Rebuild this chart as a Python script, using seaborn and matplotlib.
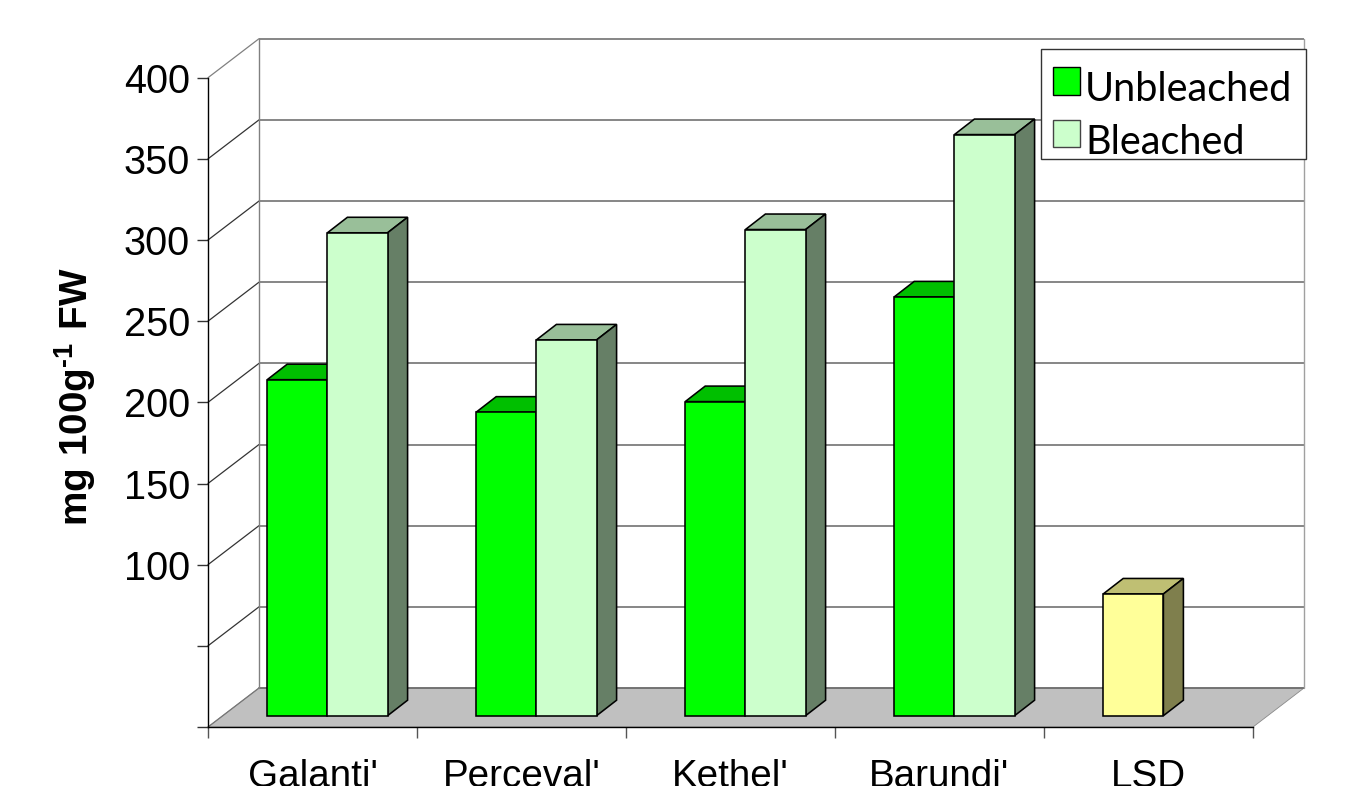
import matplotlib
matplotlib.use("Agg")
import matplotlib.pyplot as plt
from matplotlib.legend_handler import HandlerPatch
from matplotlib.patches import Polygon, Patch, Rectangle
import pandas as pd
import seaborn as sns

# Contents of each cultivar, mg per 100 g fresh weight
categories = ["Galanti'", "Perceval'", "Kethel'", "Barundi'", "LSD"]
unbleached = [207, 187, 193.5, 258, 75]
bleached = [297.5, 231.5, 299.5, 358, None]
y_ticks = [0, 50, 100, 150, 200, 250, 300, 350, 400]
y_tick_labels = ["", "", "100", "150", "200", "250", "300", "350", "400"]

sns.set_theme(style="white")
plt.rcParams["font.family"] = ["Liberation Sans", "DejaVu Sans"]
plt.rcParams["mathtext.fontset"] = "custom"
plt.rcParams["mathtext.rm"] = "Liberation Sans"
plt.rcParams["mathtext.bf"] = "Liberation Sans:bold"

W, H = 1357, 786
fig = plt.figure(figsize=(W / 100, H / 100), dpi=100, facecolor="white")
ax = fig.add_axes([208 / W, (H - 727) / H, 1045 / W, 649.3 / H])
ax.patch.set_visible(False)

df = pd.DataFrame({
    "cultivar": categories * 2,
    "value": unbleached + bleached,
    "series": ["Unbleached"] * 5 + ["Bleached"] * 5,
})
GREEN, PALE, YELLOW = "#00FF00", "#CCFFCC", "#FFFF99"
sns.barplot(data=df, x="cultivar", y="value", hue="series",
            hue_order=["Unbleached", "Bleached"],
            palette={"Unbleached": GREEN, "Bleached": PALE},
            width=0.576, gap=0, saturation=1, legend=False,
            edgecolor="black", linewidth=1.15, ax=ax, zorder=5)
ax.set_xlim(-0.5, 4.5)
ax.set_ylim(0, 400)

# Pixel-to-data scales for the oblique projection
PX = 5 / 1045
PY = 400 / 649.3
WALL_X, WALL_Y = 51 * PX, 39 * PY      # depth of the chart box
SHIFT_X, SHIFT_Y = 14.9 * PX, 11.3 * PY  # bars stand inside the box
BAR_X, BAR_Y = 20 * PX, 15.5 * PY      # depth of each bar

x0, x1 = -0.5, 4.5

# Floor and back wall
ax.add_patch(Polygon([(x0, 0), (x1, 0), (x1 + WALL_X, WALL_Y), (x0 + WALL_X, WALL_Y)],
                     closed=True, facecolor="#C0C0C0", edgecolor="#8a8a8a",
                     linewidth=0.6, clip_on=False, zorder=1))
for v in y_ticks[1:]:
    ax.plot([x0 + WALL_X, x1 + WALL_X], [v + WALL_Y] * 2, color="#666666", lw=1.1,
            clip_on=False, zorder=2, solid_capstyle="butt")
    ax.plot([x0, x0 + WALL_X], [v, v + WALL_Y],
            color="#808080" if v == 400 else "#333333", lw=0.9,
            clip_on=False, zorder=2)
ax.plot([x0 + WALL_X, x1 + WALL_X], [WALL_Y, WALL_Y], color="#6e6e6e", lw=1.3,
        clip_on=False, zorder=2)
ax.plot([x0, x0 + WALL_X], [0, WALL_Y], color="#777777", lw=0.9, clip_on=False, zorder=2)
ax.plot([x0 + WALL_X] * 2, [WALL_Y, 400 + WALL_Y], color="#808080", lw=1.0,
        clip_on=False, zorder=2)
ax.plot([x1 + WALL_X] * 2, [WALL_Y, 400 + WALL_Y], color="#a0a0a0", lw=1.0,
        clip_on=False, zorder=2)

# Extrude each bar: shifted front face plus shaded top and side
shades = {GREEN: ("#00BF00", "#007F00"),
          PALE: ("#99BF99", "#667F66"),
          YELLOW: ("#BFBF73", "#7F7F4D")}
for s, container in enumerate(ax.containers):
    for i, bar in enumerate(container):
        if not bar.get_height() > 0:
            continue
        face = GREEN if s == 0 else PALE
        if categories[i] == "LSD":
            face = YELLOW
        bar.set_facecolor(face)
        bar.set_x(bar.get_x() + SHIFT_X)
        bar.set_y(SHIFT_Y)
        bar.set_clip_on(False)
        left, right = bar.get_x(), bar.get_x() + bar.get_width()
        low, top = SHIFT_Y, SHIFT_Y + bar.get_height()
        top_shade, side_shade = shades[face]
        ax.add_patch(Polygon([(left, top), (right, top), (right + BAR_X, top + BAR_Y),
                              (left + BAR_X, top + BAR_Y)], closed=True,
                             facecolor=top_shade, edgecolor="black", linewidth=1.15,
                             clip_on=False, zorder=3 + s * 0.1))
        ax.add_patch(Polygon([(right, low), (right + BAR_X, low + BAR_Y),
                              (right + BAR_X, top + BAR_Y), (right, top)], closed=True,
                             facecolor=side_shade, edgecolor="black", linewidth=1.15,
                             clip_on=False, zorder=3 + s * 0.1))

# Axes
sns.despine(ax=ax, top=True, right=True)
for side in ("left", "bottom"):
    ax.spines[side].set_color("black")
    ax.spines[side].set_linewidth(1.0)
    ax.spines[side].set_zorder(6)
ax.set_yticks(y_ticks)
ax.set_yticklabels(y_tick_labels)
ax.set_xticks([i - 0.5 for i in range(6)])
ax.set_xticklabels([])
ax.set_xticks(range(5), categories, minor=True)
ax.tick_params(axis="y", which="major", left=True, length=8, width=1.0, color="#333333",
               pad=5, labelsize=28.6, labelcolor="black")
ax.tick_params(axis="x", which="major", bottom=True, length=8, width=1.0, color="#555555")
ax.tick_params(axis="x", which="minor", bottom=False, pad=19, labelsize=27.8, labelcolor="black")
ax.set_xlabel("")
ax.set_ylabel("$\\mathbf{mg\\ 100g^{\u2010 1}\\ FW}$", fontsize=27.8, color="black")
ax.yaxis.set_label_coords((98 - 208) / 1045, (727 - 397) / 649.3)

# Legend sits in the upper right corner over the wall, in a separate frame
fig.add_artist(Rectangle((1041.3 / W, (H - 159) / H), 264.4 / W, 110 / H,
                         transform=fig.transFigure, facecolor="white",
                         edgecolor="#333333", linewidth=1.0, zorder=9))


def raised_swatch(legend, orig_handle, xdescent, ydescent, width, height, fontsize):
    return Rectangle((-xdescent, -ydescent + 4.4), width, height)


handles = [Patch(facecolor=GREEN, edgecolor="black", linewidth=1.0, label="Unbleached"),
           Patch(facecolor=PALE, edgecolor="#444444", linewidth=1.0, label="Bleached")]
leg = fig.legend(handles=handles, loc="upper left",
                 bbox_to_anchor=(1052.7 / W, (H - 71) / H), bbox_transform=fig.transFigure,
                 prop={"family": "Lato", "size": 28.5}, frameon=False, borderaxespad=0,
                 borderpad=0, handlelength=0.68, handleheight=0.68, handletextpad=0.14,
                 labelspacing=0.40, handler_map={Patch: HandlerPatch(patch_func=raised_swatch)})
leg.set_zorder(10)
for t in leg.get_texts():
    t.set_color("black")

fig.savefig("out.png", dpi=100, facecolor="white")
